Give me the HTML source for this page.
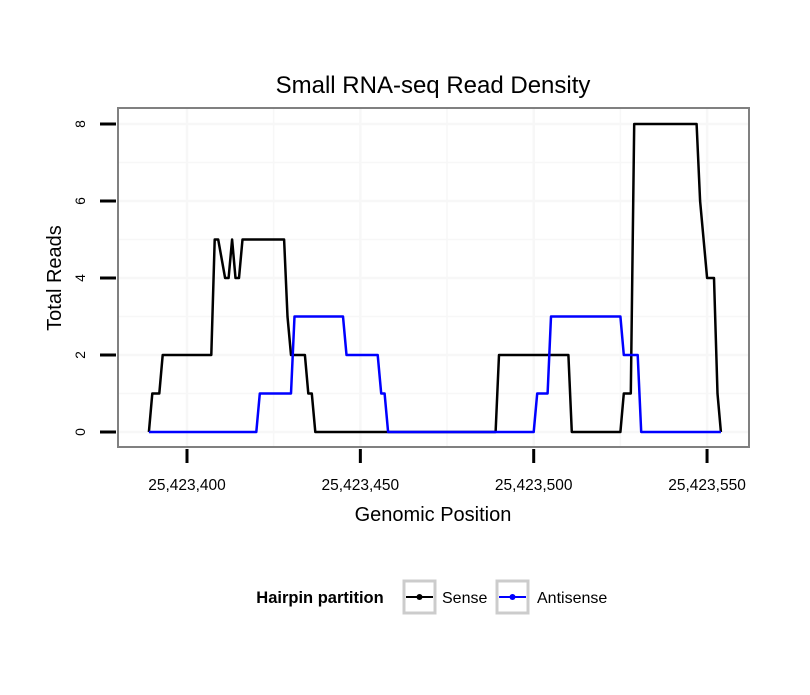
<!DOCTYPE html>
<html><head><meta charset="utf-8"><style>
body{margin:0;background:#fff}
svg text{font-family:"Liberation Sans",sans-serif}
</style></head><body>
<svg id="chart" width="810" height="690" xmlns="http://www.w3.org/2000/svg">
<rect width="810" height="690" fill="#fff"/>
<text x="433" y="93" font-size="24" text-anchor="middle">Small RNA-seq Read Density</text>
<g id="grid"></g>
<g id="series"></g>
<rect x="118" y="108" width="631" height="339" fill="none" stroke="#808080" stroke-width="2"/>
<g id="axes"></g>
<text x="433" y="521" font-size="20" text-anchor="middle">Genomic Position</text>
<text x="0" y="0" font-size="20" text-anchor="middle" transform="translate(61,278) rotate(-90)">Total Reads</text>
<g>
<text x="320" y="603" font-size="16.5" font-weight="bold" text-anchor="middle">Hairpin partition</text>
<g>
<rect x="404" y="581" width="31" height="32" fill="#fff" stroke="#ccc" stroke-width="3"/>
<line x1="406" y1="597" x2="433" y2="597" stroke="#000" stroke-width="2"/>
<circle cx="419.5" cy="597" r="3" fill="#000"/>
<text x="442" y="603" font-size="16">Sense</text></g>
<g>
<rect x="497" y="581" width="31" height="32" fill="#fff" stroke="#ccc" stroke-width="3"/>
<line x1="499" y1="597" x2="526" y2="597" stroke="#00f" stroke-width="2"/>
<circle cx="512.5" cy="597" r="3" fill="#00f"/>
<text x="537" y="603" font-size="16">Antisense</text></g>
</g>
</svg>
<script>
const base = 25423400;
const xTicks = [25423400, 25423450, 25423500, 25423550];
const xTickLabels = ["25,423,400", "25,423,450", "25,423,500", "25,423,550"];
const yTicks = [0, 2, 4, 6, 8];
const senseOffsets = [-11,-10,-8,-7,7,8,9,11,12,13,14,15,16,28,29,30,34,35,36,37,89,90,110,111,125,126,128,129,147,148,149,150,152,153,154];
const senseValues  = [0,1,1,2,2,5,5,4,4,5,4,4,5,5,3,2,2,1,1,0,0,2,2,0,0,1,1,8,8,6,5,4,4,1,0];
const antiOffsets = [-11,20,21,30,31,45,46,55,56,57,58,100,101,104,105,125,126,130,131,154];
const antiValues  = [0,0,1,1,3,3,2,2,1,1,0,0,1,1,3,3,2,2,0,0];

const NS="http://www.w3.org/2000/svg";
function xs(p){return 187+(p-base)*3.467;}
function ys(v){return 432-v*38.5;}
function mk(tag,attrs,parent){const e=document.createElementNS(NS,tag);for(const k in attrs)e.setAttribute(k,attrs[k]);parent.appendChild(e);return e;}
const grid=document.getElementById('grid'),axes=document.getElementById('axes'),series=document.getElementById('series');
for(let v=0;v<=8;v++){const l=mk('line',{x1:118,x2:749,y1:ys(v),y2:ys(v),stroke:'#f7f7f7','stroke-width':v%2?1.5:2.5},grid);

}
for(let p=base-25;p<=base+175;p+=25){const X=xs(p);if(X<118||X>749)continue;const l=mk('line',{x1:X,x2:X,y1:108,y2:447,stroke:'#f7f7f7','stroke-width':(p-base)%50?1.5:2.5},grid);

}
xTicks.forEach((t,i)=>{const X=xs(t);
const l=mk('line',{x1:X,x2:X,y1:449,y2:463,stroke:'#000','stroke-width':3},axes);


const tx=mk('text',{x:X,y:490,'font-size':15.5,'text-anchor':'middle'},axes);tx.textContent=xTickLabels[i];

});
yTicks.forEach(v=>{const Y=ys(v);
const l=mk('line',{x1:100,x2:116,y1:Y,y2:Y,stroke:'#000','stroke-width':3},axes);


const tx=mk('text',{x:0,y:0,'font-size':14,'text-anchor':'middle',transform:`translate(85,${Y}) rotate(-90)`},axes);tx.textContent=v;

});
function line(offs,vals,color,name){const pts=offs.map((o,i)=>xs(base+o).toFixed(1)+','+ys(vals[i]).toFixed(1)).join(' ');
const p=mk('polyline',{points:pts,fill:'none',stroke:color,'stroke-width':2.5,'stroke-linejoin':'round'},series);

}
line(senseOffsets,senseValues,'#000','sense-line');
line(antiOffsets,antiValues,'#00f','antisense-line');
</script>
</body></html>
